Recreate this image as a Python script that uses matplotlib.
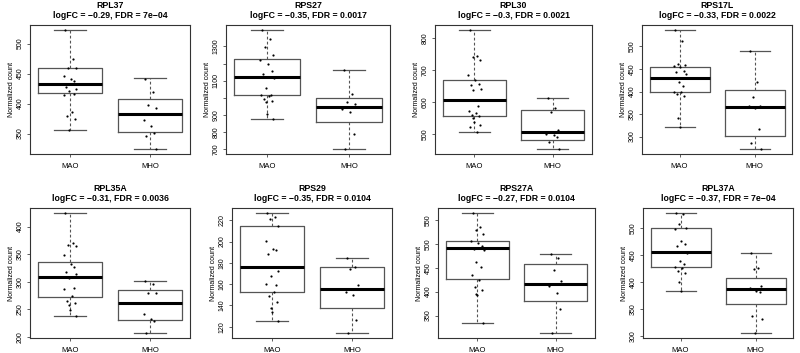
import matplotlib
matplotlib.use('Agg')
import matplotlib.pyplot as plt
import numpy as np

plt.rcParams['font.family'] = ['Liberation Sans', 'DejaVu Sans']

genes = ['RPL37', 'RPS27', 'RPL30', 'RPS17L', 'RPL35A', 'RPS29', 'RPS27A', 'RPL37A']
logfc = ['\u22120.29', '\u22120.35', '\u22120.3', '\u22120.33', '\u22120.31', '\u22120.35', '\u22120.27', '\u22120.37']
fdr = ['7e\u221204', '0.0017', '0.0021', '0.0022', '0.0036', '0.0104', '0.0104', '7e\u221204']
groups = ['MAO', 'MHO']

# box stats: whislo, q1, med, q3, whishi
mao_stats = [
    [356, 417, 432, 459, 523],
    [877, 1016, 1123, 1224, 1397],
    [507, 555, 607, 669, 826],
    [321, 398, 430, 454, 537],
    [238, 273, 309, 336, 425],
    [125, 153, 176, 215, 227],
    [334, 426, 492, 505, 565],
    [385, 429, 456, 501, 529],
]
mho_stats = [
    [324, 353, 382, 408, 443],
    [700, 856, 947, 1000, 1160],
    [452, 481, 507, 575, 613],
    [272, 302, 366, 404, 491],
    [207, 231, 262, 286, 302],
    [114, 138, 155.5, 176, 185],
    [313, 380, 417, 458, 478],
    [306, 360, 387, 409, 455],
]

mao_points = [
    [523, 474, 459, 459, 446, 441, 437, 427, 424, 421, 416, 415, 386, 379, 374, 356],
    [1397, 1345, 1294, 1247, 1222, 1199, 1154, 1138, 1115, 1058, 1019, 1017, 1008, 994, 984, 975, 907, 879],
    [826, 745, 740, 732, 684, 669, 657, 652, 641, 636, 586, 573, 566, 558, 555, 550, 537, 529, 523, 505],
    [537, 513, 462, 458, 456, 454, 445, 443, 438, 422, 413, 400, 398, 395, 389, 342, 321],
    [425, 370, 367, 365, 348, 332, 326, 318, 314, 307, 288, 287, 274, 266, 262, 258, 249, 238],
    [227, 223, 221, 215, 201, 193, 192, 188, 172, 168, 159, 160, 153, 149, 143, 138, 134, 125],
    [565, 535, 530, 521, 505, 501, 495, 490, 487, 462, 452, 435, 424, 410, 404, 396, 393, 334],
    [529, 527, 509, 500, 499, 476, 472, 467, 454, 440, 435, 429, 426, 422, 418, 401, 385],
]
mho_points = [
    [441, 420, 397, 392, 372, 362, 351, 346, 324],
    [1160, 1024, 977, 965, 934, 918, 790, 700],
    [613, 582, 567, 513, 500, 497, 490, 474, 452],
    [491, 422, 387, 369, 367, 363, 317, 285, 272],
    [302, 296, 280, 280, 242, 232, 229, 207],
    [185, 176, 174, 159, 153, 150, 126, 114],
    [478, 471, 446, 422, 412, 397, 364, 313],
    [455, 427, 424, 393, 389, 384, 382, 337, 332, 306],
]

yticks = [
    [350, 400, 450, 500],
    [700, 800, 900, 1000, 1100, 1200, 1300],
    [500, 600, 700, 800],
    [300, 350, 400, 450, 500],
    [200, 250, 300, 350, 400],
    [120, 140, 160, 180, 200, 220],
    [350, 400, 450, 500, 550],
    [300, 350, 400, 450, 500],
]
ytick_labels = [
    ['350', '400', '450', '500'],
    ['700', '800', '900', '', '1100', '', '1300'],
    ['500', '600', '700', '800'],
    ['300', '350', '400', '450', '500'],
    ['200', '250', '300', '350', '400'],
    ['120', '140', '160', '180', '200', '220'],
    ['350', '400', '450', '500', '550'],
    ['300', '350', '400', '450', '500'],
]

W, H = 800, 353
fig = plt.figure(figsize=(W / 100, H / 100), dpi=100)

# axes frames in pixels: left, right, top, bottom
frames = [
    (30, 190, 25, 154), (226, 390, 25, 154), (435, 592, 25, 154), (642, 792, 25, 154),
    (30, 190, 208, 338), (232, 392, 208, 338), (438, 595, 208, 338), (643, 793, 208, 338),
]

jit = [-0.06, 0.035, -0.02, 0.07, -0.08, 0.01, 0.055, -0.045, 0.08, -0.01,
       0.045, -0.07, 0.02, -0.035, 0.065, -0.015, 0.0, 0.075, -0.06, 0.04]

for i in range(8):
    l, r, t, b = frames[i]
    ax = fig.add_axes([l / W, 1 - b / H, (r - l) / W, (b - t) / H])
    stats = []
    for s, lab in zip([mao_stats[i], mho_stats[i]], groups):
        stats.append({'whislo': s[0], 'q1': s[1], 'med': s[2], 'q3': s[3],
                      'whishi': s[4], 'fliers': [], 'label': lab})
    ax.bxp(stats, positions=[1, 2], widths=0.8, showfliers=False,
           boxprops=dict(color='#555555', lw=0.9),
           medianprops=dict(color='black', lw=2.2),
           whiskerprops=dict(color='#555555', lw=0.8, linestyle=(0, (2.5, 2))),
           capprops=dict(color='#555555', lw=0.9), capwidths=0.4)
    for k, pts in enumerate([mao_points[i], mho_points[i]]):
        xs = [k + 1 + jit[j % len(jit)] for j in range(len(pts))]
        ax.scatter(xs, pts, s=2.5, color='black', zorder=3, lw=0)
    ax.set_xlim(0.5, 2.5)
    ax.set_ymargin(0.04)
    ax.autoscale_view()
    ax.set_yticks(yticks[i])
    ax.set_yticklabels(ytick_labels[i], rotation=90, va='center', fontsize=5)
    ax.set_xticks([1, 2])
    ax.set_xticklabels(groups, fontsize=5.5)
    ax.tick_params(length=2.5, width=0.6, pad=2, color='#444444')
    ax.tick_params(axis='x', pad=4)
    ax.set_ylabel('Normalized count', fontsize=5, labelpad=1)
    for sp in ax.spines.values():
        sp.set_linewidth(0.8)
        sp.set_color('#333333')
    ax.set_title(genes[i] + '\nlogFC = ' + logfc[i] + ', FDR = ' + fdr[i],
                 fontsize=6.3, fontweight='bold', pad=5, linespacing=1.15)

plt.savefig('out.png', dpi=100)
